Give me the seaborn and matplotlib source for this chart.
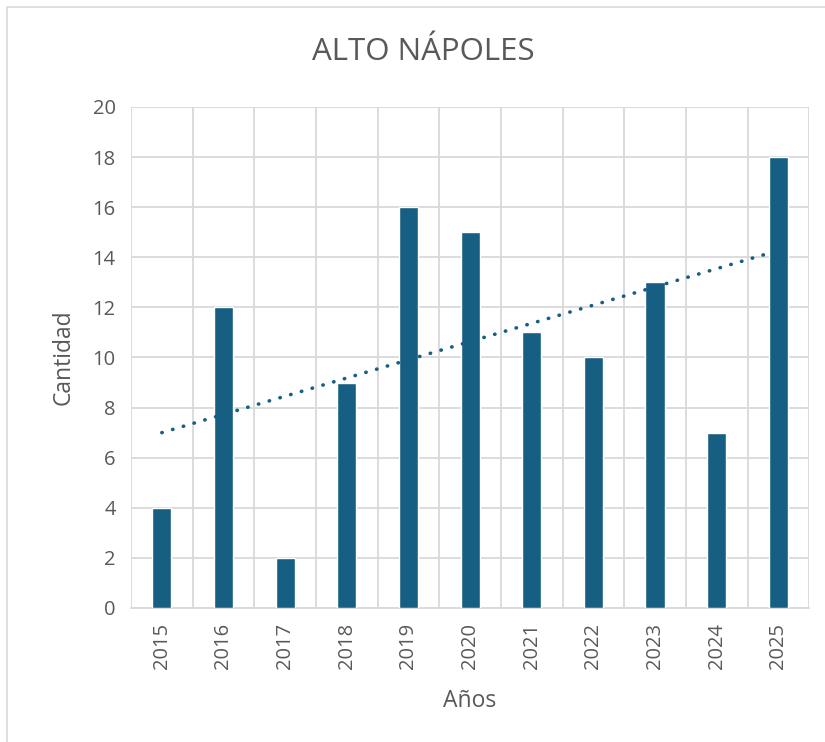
import numpy as np
import pandas as pd
import matplotlib
matplotlib.use('Agg')
import matplotlib.pyplot as plt
import seaborn as sns
from matplotlib.patches import Rectangle

# data
years = ['2015', '2016', '2017', '2018', '2019', '2020', '2021', '2022', '2023', '2024', '2025']
counts = [4, 12, 2, 9, 16, 15, 11, 10, 13, 7, 18]

df = pd.DataFrame({'Años': years, 'Cantidad': counts})

sns.set_style('white')
plt.rcParams['font.family'] = ['Open Sans', 'DejaVu Sans']

bar_color = '#165f83'
text_color = '#595959'
grid_color = '#d9d9d9'

fig = plt.figure(figsize=(8.25, 7.42), dpi=100)
ax = fig.add_axes([0.1588, 0.1806, 0.822, 0.6752])

sns.barplot(data=df, x='Años', y='Cantidad', color=bar_color, width=0.31,
            saturation=1, ax=ax, zorder=3)

# linear trendline (dotted)
xs = np.arange(len(counts))
slope, intercept = np.polyfit(xs + 1, counts, 1)
ax.plot(xs, slope * (xs + 1) + intercept, linestyle=(0, (0.1, 3.0)),
        color=bar_color, linewidth=2.6, dash_capstyle='round', zorder=4)

ax.set_ylim(0, 20)
ax.set_xlim(-0.5, len(years) - 0.5)
ax.set_yticks(range(0, 21, 2))
ax.set_xticks(xs, minor=False)
ax.set_xticks(np.arange(-0.5, len(years), 1), minor=True)
ax.grid(axis='y', color=grid_color, linewidth=1.3, zorder=0)
ax.grid(axis='x', which='minor', color=grid_color, linewidth=1.3, zorder=0)
ax.grid(axis='x', which='major', visible=False)
ax.tick_params(axis='both', which='both', length=0, colors=text_color, labelsize=14.5)
ax.tick_params(axis='x', rotation=90, pad=11)
ax.tick_params(axis='y', pad=11)

for s in ['top', 'right']:
    ax.spines[s].set_visible(False)
ax.spines['left'].set_visible(False)
ax.spines['bottom'].set_color(grid_color)
ax.spines['bottom'].set_linewidth(1.3)

ax.set_xlabel('Años', fontsize=16.5, color=text_color, labelpad=14)
ax.set_ylabel('Cantidad', fontsize=16.5, color=text_color, labelpad=12)
fig.text(0.513, 0.93, 'ALTO NÁPOLES', ha='center', va='center', fontsize=22.5, color=text_color)

# outer chart border
fig.patches.append(Rectangle((0.008, -0.01), 1.2, 1.0, transform=fig.transFigure,
                             fill=False, edgecolor=grid_color, linewidth=1.2))

fig.savefig('out.png', dpi=100)
